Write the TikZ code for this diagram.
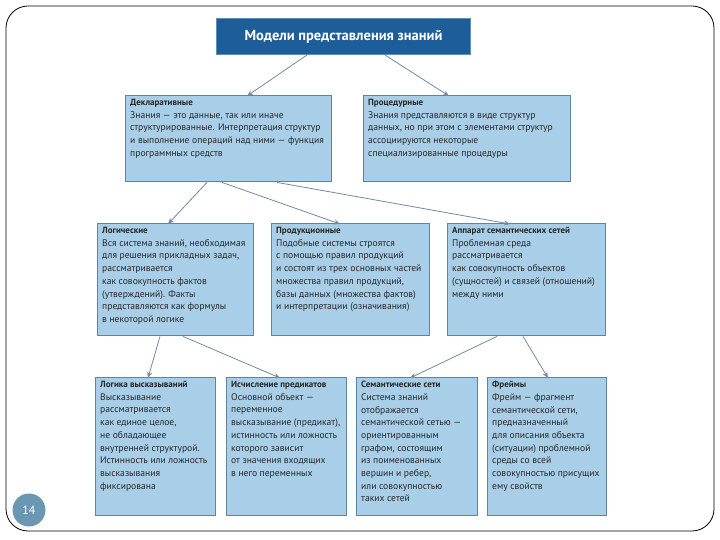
\documentclass[tikz,border=0pt]{standalone}
\usepackage{fontspec}
\setmainfont{PT Sans}
\usetikzlibrary{arrows.meta}
\definecolor{boxfill}{HTML}{A9CFE8}
\definecolor{boxline}{HTML}{5F84A0}
\definecolor{titlefill}{HTML}{1C5D9A}
\definecolor{arrcol}{HTML}{7189A3}
\definecolor{numfill}{HTML}{6A98B2}
\tikzset{
  bx/.style={draw=boxline, line width=1.4pt, fill=boxfill, anchor=north west, inner sep=0pt},
  txt/.style={anchor=north west, inner sep=0pt, align=left, text=black!85,
     font=\fontsize{9.6}{12.7}\selectfont},
  arr/.style={draw=arrcol, line width=0.8pt, -{Stealth[length=6pt,width=5pt]}},
}
\newcommand{\hd}[1]{{\fontsize{9}{12.7}\selectfont\bfseries #1}}
\begin{document}
\begin{tikzpicture}[x=1pt,y=-1pt]
\useasboundingbox (0,0) rectangle (720,540);
\draw[line width=0.8pt, rounded corners=22pt] (6,6) rectangle (714,531);

% title
\node[draw=titlefill!70, line width=1pt, fill=titlefill, anchor=north west, minimum width=254pt, minimum height=36pt, inner sep=0pt,
  text=white, font=\fontsize{14.5}{16}\selectfont\bfseries] (title) at (216,18) {Модели представления знаний};

% row 1
\node[bx, minimum width=206pt, minimum height=86pt] (dek) at (125,95) {};
\node[txt] (dekt) at (130,99) {\hd{Декларативные}\\Знания — это данные, так или иначе\\структурированные. Интерпретация структур\\и выполнение операций над ними — функция\\программных средств};
\node[bx, minimum width=207pt, minimum height=86pt] (proc) at (363,95) {};
\node[txt] (proct) at (368,99) {\hd{Процедурные}\\Знания представляются в виде структур\\данных, но при этом с элементами структур\\ассоциируются некоторые\\специализированные процедуры};

% row 2
\node[bx, minimum width=156pt, minimum height=112pt] (log) at (97,223) {};
\node[txt] (logt) at (102,227) {\hd{Логические}\\Вся система знаний, необходимая\\для решения прикладных задач,\\рассматривается\\как совокупность фактов\\(утверждений). Факты\\представляются как формулы\\в некоторой логике};
\node[bx, minimum width=158pt, minimum height=112pt] (prod) at (271,223) {};
\node[txt] (prodt) at (276,227) {\hd{Продукционные}\\Подобные системы строятся\\с помощью правил продукций\\и состоят из трех основных частей\\множества правил продукций,\\базы данных (множества фактов)\\и интерпретации (означивания)};
\node[bx, minimum width=158pt, minimum height=112pt] (app) at (447,223) {};
\node[txt] (appt) at (452,227) {\hd{Аппарат семантических сетей}\\Проблемная среда\\рассматривается\\как совокупность объектов\\(сущностей) и связей (отношений)\\между ними};

% row 3
\node[bx, minimum width=120pt, minimum height=138pt] (lv) at (95,377) {};
\node[txt] (lvt) at (100,381) {\hd{Логика высказываний}\\Высказывание\\рассматривается\\как единое целое,\\не обладающее\\внутренней структурой.\\Истинность или ложность\\высказывания\\фиксирована};
\node[bx, minimum width=120pt, minimum height=138pt] (ip) at (226,377) {};
\node[txt] (ipt) at (231,381) {\hd{Исчисление предикатов}\\Основной объект —\\переменное\\высказывание (предикат),\\истинность или ложность\\которого зависит\\от значения входящих\\в него переменных};
\node[bx, minimum width=121pt, minimum height=138pt] (sem) at (356,377) {};
\node[txt] (semt) at (361,381) {\hd{Семантические сети}\\Система знаний\\отображается\\семантической сетью —\\ориентированным\\графом, состоящим\\из поименованных\\вершин и ребер,\\или совокупностью\\таких сетей};
\node[bx, minimum width=119pt, minimum height=138pt] (fr) at (487,377) {};
\node[txt] (frt) at (492,381) {\hd{Фреймы}\\Фрейм — фрагмент\\семантической сети,\\предназначенный\\для описания объекта\\(ситуации) проблемной\\среды со всей\\совокупностью присущих\\ему свойств};

% arrows
\draw[arr] ([xshift=91pt]title.south west) -- ([xshift=122pt,yshift=-1pt]dek.north west);
\draw[arr] ([xshift=169pt]title.south west) -- ([xshift=86pt,yshift=-1pt]proc.north west);
\draw[arr] ([xshift=82pt]dek.south west) -- ([xshift=71pt,yshift=-1pt]log.north west);
\draw[arr] ([xshift=97pt]dek.south west) -- ([xshift=69pt,yshift=-1pt]prod.north west);
\draw[arr] ([xshift=152pt]dek.south west) -- ([xshift=63pt,yshift=-1pt]app.north west);
\draw[arr] ([xshift=63pt]log.south west) -- ([xshift=53pt,yshift=-1pt]lv.north west);
\draw[arr] ([xshift=86pt]log.south west) -- ([xshift=54pt,yshift=-1pt]ip.north west);
\draw[arr] ([xshift=50pt]app.south west) -- ([xshift=54pt,yshift=-1pt]sem.north west);
\draw[arr] ([xshift=76pt]app.south west) -- ([xshift=61pt,yshift=-1pt]fr.north west);

% page number
\node[circle, fill=numfill, minimum size=33pt, inner sep=0pt, text=white, font=\fontsize{12}{14}\selectfont] (pg) at (29,510) {14};
\end{tikzpicture}
\end{document}
